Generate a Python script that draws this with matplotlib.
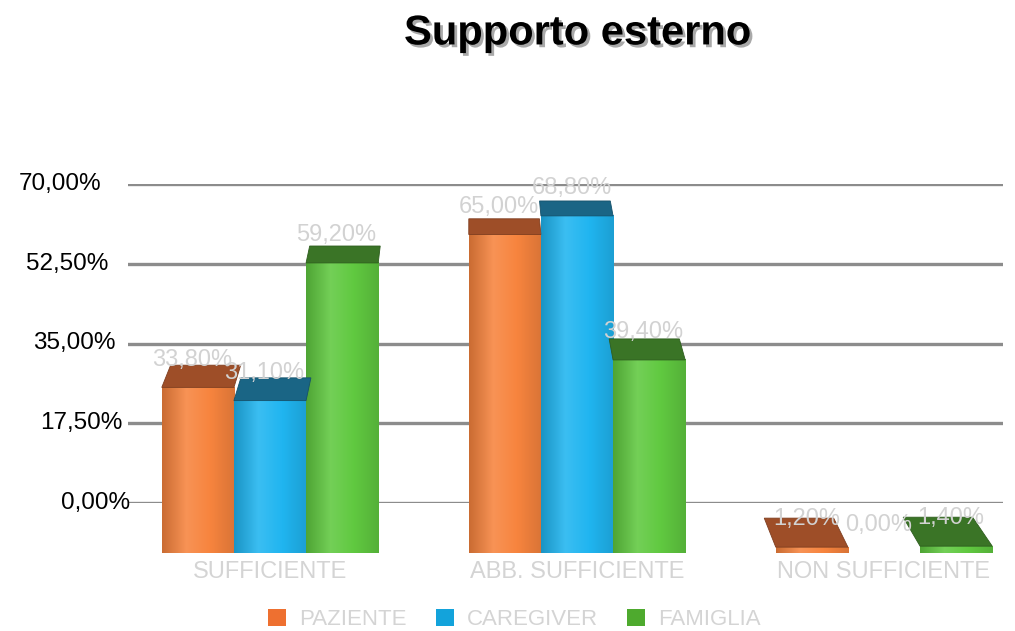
import numpy as np
import matplotlib.pyplot as plt
from matplotlib.patches import Patch, Polygon
from matplotlib.colors import LinearSegmentedColormap, to_rgb
import matplotlib.patheffects as pe

plt.rcParams['font.family'] = ['Liberation Sans', 'DejaVu Sans']

categories = ['SUFFICIENTE', 'ABB. SUFFICIENTE', 'NON SUFFICIENTE']
series = ['PAZIENTE', 'CAREGIVER', 'FAMIGLIA']
paziente = [33.8, 65.0, 1.2]
caregiver = [31.1, 68.8, 0.0]
famiglia = [59.2, 39.4, 1.4]
yticks = [0, 17.5, 35, 52.5, 70]

front_cols = ['#F7843E', '#20B5F0', '#60C940']
top_cols = ['#9E4E28', '#1A6585', '#3A7426']
legend_cols = ['#EE7030', '#13A3DB', '#4EAA2E']


def fmt(v):
    return f'{v:.2f}'.replace('.', ',') + '%'


def shade(c, f):
    r = np.array(to_rgb(c))
    if f >= 0:
        return tuple(r + (1 - r) * f)
    return tuple(r * (1 + f))


fig = plt.figure(figsize=(10.15, 6.31), dpi=100)

# back wall: gridlines and value axis
back = fig.add_axes([128 / 1015, 128 / 631, 875 / 1015, 319 / 631])
back.set_ylim(0, 70)
back.set_xlim(0, 1)
back.axis('off')
for v in yticks:
    back.axhline(v, color='#8c8c8c', lw=2.4, zorder=1)
    back.text(0.002 - 0.032 * v / 70, v, fmt(v), ha='right', va='center',
              fontsize=17.5, color='black', transform=back.get_yaxis_transform())

# front: bars in perspective
ax = fig.add_axes([128 / 1015, 78 / 631, 875 / 1015, 369 / 631])
ax.patch.set_alpha(0)
px_y = 4.9
ax.set_yticks([])
for s in ax.spines.values():
    s.set_visible(False)

x = np.arange(len(categories))
w = 0.235
vx = 0.651  # vanishing column


def depth(v):
    # top face looks deeper the lower the bar ends
    return 0.0425 * (688 - px_y * v)


for i, vals in enumerate([paziente, caregiver, famiglia]):
    pos = x + (i - 1) * w
    bars = ax.bar(pos, vals, w, color=front_cols[i], zorder=2, linewidth=0)
    cmap = LinearSegmentedColormap.from_list(
        'g', [shade(front_cols[i], -0.18), shade(front_cols[i], 0.12),
              front_cols[i], shade(front_cols[i], -0.12)])
    grad = np.linspace(0, 1, 64).reshape(1, -1)
    for b, v in zip(bars, vals):
        x0, x1 = b.get_x(), b.get_x() + b.get_width()
        d_px = depth(v)
        dy = d_px / px_y
        dx0 = (vx - x0) * 0.0013 * d_px
        dx1 = (vx - x1) * 0.0013 * d_px
        if v > 0:
            ax.imshow(grad, extent=[x0, x1, 0, v], aspect='auto', cmap=cmap,
                      zorder=3, interpolation='bilinear')
            ax.add_patch(Polygon([(x0, v), (x1, v), (x1 + dx1, v + dy), (x0 + dx0, v + dy)],
                                 closed=True, facecolor=top_cols[i],
                                 edgecolor=shade(top_cols[i], -0.2), lw=0.6, zorder=4))
        ax.annotate(fmt(v), ((x0 + x1) / 2, v), xytext=(-4, 20), textcoords='offset points',
                    ha='center', va='center', fontsize=17, color='#d2d2d2', zorder=6)

ax.set_xlim(-0.4625, 2.3876)
ax.set_ylim(0, 369 / px_y)
ax.set_xticks(x)
ax.set_xticklabels(categories, fontsize=17, color='#d4d4d4')
ax.tick_params(axis='x', length=0, pad=6)

title = fig.text(0.569, 0.947, 'Supporto esterno', ha='center', va='center',
                 fontsize=30, fontweight='bold', color='black')
title.set_path_effects([pe.withSimplePatchShadow(offset=(2, -2), shadow_rgbFace='#555555', alpha=0.5)])

handles = [Patch(facecolor=c) for c in legend_cols]
fig.legend(handles, series, loc='center', bbox_to_anchor=(0.507, 0.0185), ncol=3,
           frameon=False, fontsize=16, labelcolor='#d4d4d4', handlelength=0.8,
           handleheight=0.8, handletextpad=0.6, columnspacing=1.3)

fig.savefig('out.png', dpi=100)
